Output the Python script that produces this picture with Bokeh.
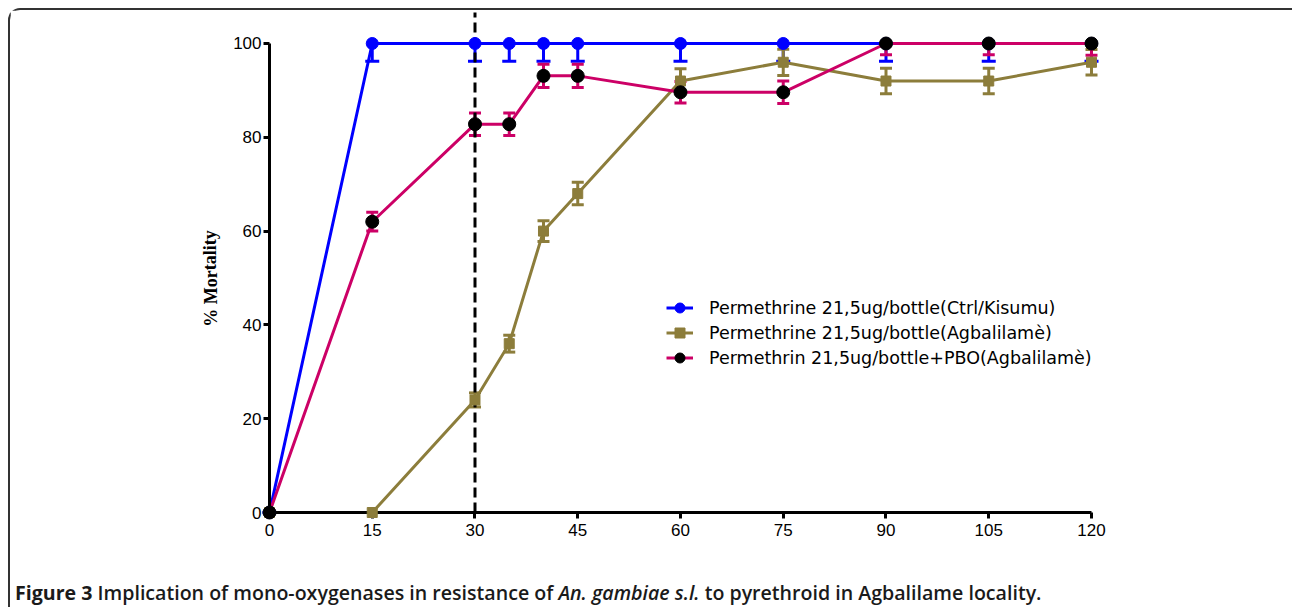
from bokeh.plotting import figure
from bokeh.models import (ColumnDataSource, Whisker, TeeHead, Range1d, Legend,
                          LegendItem, Label, Div, FixedTicker)
from bokeh.layouts import column
from bokeh.embed import file_html
from bokeh.resources import INLINE

# ---- data ----
time_min = [0, 15, 30, 35, 40, 45, 60, 75, 90, 105, 120]
x_ticks = [0, 15, 30, 45, 60, 75, 90, 105, 120]
y_ticks = [0, 20, 40, 60, 80, 100]

ctrl_kisumu = [0, 100, 100, 100, 100, 100, 100, 100, 100, 100, 100]
ctrl_err_up = [0, 0, 0, 0, 0, 0, 0, 0, 0, 0, 0]
ctrl_err_low = [0, 3.8, 3.8, 3.8, 3.8, 3.8, 3.8, 3.8, 3.8, 3.8, 3.8]

agbalilame = [0, 0, 24, 36, 60, 68, 92, 96, 92, 92, 96]
agb_err_up = [0, 0, 1.5, 1.8, 2.2, 2.4, 2.6, 2.8, 2.7, 2.7, 2.7]
agb_err_low = [0, 0, 1.5, 1.8, 2.2, 2.4, 2.6, 2.8, 2.7, 2.7, 2.7]

pbo = [0, 62, 82.8, 82.8, 93.1, 93.1, 89.6, 89.6, 100, 100, 100]
pbo_err_up = [0, 2.0, 2.4, 2.4, 2.5, 2.5, 2.3, 2.4, 0, 0, 0]
pbo_err_low = [0, 2.0, 2.4, 2.4, 2.5, 2.5, 2.3, 2.4, 2.4, 2.4, 2.5]

cutoff_x = [30]
cutoff_y0 = [0]
cutoff_y1 = [106.6]

labels = ["Permethrine 21,5ug/bottle(Ctrl/Kisumu)",
          "Permethrine 21,5ug/bottle(Agbalilamè)",
          "Permethrin 21,5ug/bottle+PBO(Agbalilamè)"]

BLUE = "#0000ff"
OLIVE = "#8c7d3b"
CRIMSON = "#cc0066"
FONT = "DejaVu Sans"
TICK_FONT = "Liberation Sans"

W, H = 1272, 560
p = figure(width=W, height=H, output_backend="svg", toolbar_location=None,
           x_range=Range1d(-15.912, 123.066), y_range=Range1d(-5.970, 107.036),
           min_border_left=150, min_border_right=170, min_border_top=0,
           min_border_bottom=30)
p.grid.visible = False
p.outline_line_color = None
p.background_fill_color = "white"
p.border_fill_color = "white"

for ax in (p.xaxis[0], p.yaxis[0]):
    ax.axis_line_width = 3
    ax.axis_line_color = "black"
    ax.major_tick_line_width = 3
    ax.major_tick_line_color = "black"
    ax.major_tick_out = 6
    ax.major_tick_in = 0
    ax.minor_tick_line_color = None
    ax.major_label_text_font = TICK_FONT
    ax.major_label_text_font_size = "17px"
    ax.major_label_text_color = "black"
    ax.fixed_location = 0
p.xaxis.major_label_standoff = 5
p.yaxis.major_label_standoff = 2

p.xaxis.ticker = FixedTicker(ticks=x_ticks)
p.yaxis.ticker = FixedTicker(ticks=y_ticks)
p.xaxis.bounds = (0, 120)
p.yaxis.bounds = (0, 100)


def series(y, up, low, color, marker, msize, mcolor, cap, low_only=False):
    src = ColumnDataSource(dict(
        x=time_min, y=y,
        upper=[a + b for a, b in zip(y, up)],
        lower=[a - b for a, b in zip(y, low)]))
    lr = p.line("x", "y", source=src, line_color=color, line_width=3)
    wk = Whisker(base="x", upper="upper", lower="lower", source=src,
                 dimension="height", line_color=color, line_width=3,
                 lower_head=TeeHead(size=cap, line_color=color, line_width=3),
                 upper_head=None if low_only else TeeHead(size=cap, line_color=color, line_width=3))
    p.add_layout(wk)
    sr = p.scatter("x", "y", source=src, marker=marker, size=msize,
                   fill_color=mcolor, line_color=mcolor, level="overlay")
    return lr, sr


b = series(ctrl_kisumu, ctrl_err_up, ctrl_err_low, BLUE, "circle", 12, BLUE, 14, low_only=True)
o = series(agbalilame, agb_err_up, agb_err_low, OLIVE, "square", 10, OLIVE, 12)
c = series(pbo, pbo_err_up, pbo_err_low, CRIMSON, "circle", 13, "black", 12)

p.segment(x0=cutoff_x, y0=cutoff_y0, x1=cutoff_x, y1=cutoff_y1,
          line_color="black", line_width=3, line_dash="10 5")

legend = Legend(items=[LegendItem(label=labels[0], renderers=list(b)),
                       LegendItem(label=labels[1], renderers=list(o)),
                       LegendItem(label=labels[2], renderers=list(c))],
                location=(506, 170), padding=0, margin=0, spacing=0,
                glyph_width=27, glyph_height=25, label_height=25,
                label_standoff=16, label_text_font=FONT,
                label_text_font_size="17.5px", label_text_color="black",
                border_line_color=None, background_fill_alpha=0)
p.add_layout(legend, "center")

p.add_layout(Label(x=515, y=-15, x_units="screen", y_units="screen",
                   text="Time(minutes)", text_font=FONT, text_font_size="17.5px",
                   text_align="center", text_baseline="middle", text_color="black"))
p.add_layout(Label(x=50, y=262, x_units="screen", y_units="screen",
                   text="% Mortality", text_font="Liberation Serif",
                   text_font_style="bold", text_font_size="18px", angle=1.5708,
                   text_align="center", text_baseline="middle", text_color="black"))

caption = Div(text=('<div style="font-family:\'Open Sans\';font-size:19.6px;line-height:20px;'
                    'padding-top:8px;color:#1a1a1a;white-space:nowrap;font-weight:600;">'
                    '<span style="font-weight:700">Figure 3</span> Implication of mono-oxygenases in resistance of '
                    '<i>An. gambiae s.l.</i> to pyrethroid in Agbalilame locality.</div>'),
              width=W, height=29)

layout = column(p, caption, styles={"border-left": "2px solid #333",
                                    "border-top": "2px solid #333",
                                    "border-top-left-radius": "12px",
                                    "margin-left": "8px", "margin-top": "8px"})

open("out.html", "w").write(file_html(layout, INLINE))
